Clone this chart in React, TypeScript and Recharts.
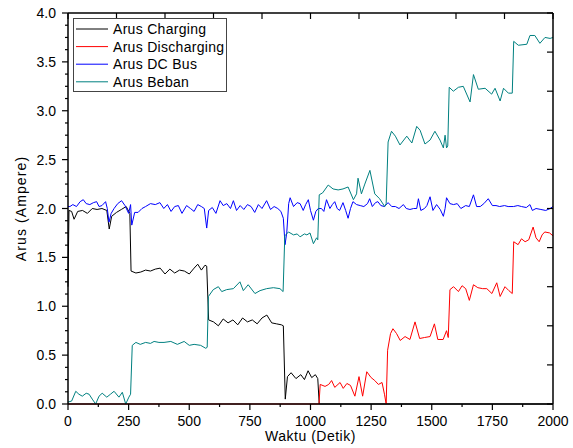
import { LineChart, Line, XAxis, YAxis, Legend } from "recharts";

// [detik, ampere]
const charging: [number, number][] = [
  [0, 1.2], [4, 1.98], [15, 1.97], [25, 1.89], [40, 1.97], [60, 1.98], [80, 1.95],
  [100, 2.0], [120, 1.99], [140, 2.0], [160, 1.98], [170, 1.79], [180, 1.92],
  [200, 1.96], [220, 1.99], [240, 2.02], [255, 1.95], [260, 1.36], [280, 1.34],
  [300, 1.35], [320, 1.37], [340, 1.36], [360, 1.38], [380, 1.39], [400, 1.33],
  [420, 1.38], [440, 1.34], [460, 1.37], [480, 1.36], [500, 1.33], [520, 1.39],
  [535, 1.43], [550, 1.37], [565, 1.42], [572, 1.41], [580, 0.86], [600, 0.84],
  [620, 0.8], [640, 0.87], [660, 0.83], [680, 0.86], [700, 0.81], [720, 0.88],
  [740, 0.84], [760, 0.86], [780, 0.82], [800, 0.88], [820, 0.91], [840, 0.83],
  [860, 0.82], [880, 0.81], [888, 0.8], [896, 0.05], [905, 0.28], [920, 0.32],
  [940, 0.26], [960, 0.3], [975, 0.25], [990, 0.34], [1005, 0.27], [1020, 0.3],
  [1030, 0.26], [1036, 0], [2000, 0],
];

const discharging: [number, number][] = [
  [0, 0], [1035, 0], [1040, 0.2], [1060, 0.18], [1075, 0.2], [1087, 0.24],
  [1100, 0.17], [1122, 0.22], [1135, 0.16], [1150, 0.21], [1165, 0.19],
  [1183, 0.08], [1200, 0.28], [1215, 0.08], [1232, 0.33], [1250, 0.27],
  [1265, 0.24], [1280, 0.2], [1295, 0.22], [1305, 0.1], [1312, 0], [1318, 0.55],
  [1330, 0.72], [1340, 0.77], [1355, 0.72], [1370, 0.65], [1390, 0.69],
  [1410, 0.66], [1431, 0.84], [1450, 0.67], [1470, 0.68], [1493, 0.69],
  [1511, 0.82], [1525, 0.66], [1547, 0.66], [1561, 0.75], [1568, 0.68],
  [1575, 1.17], [1590, 1.2], [1610, 1.15], [1625, 1.21], [1640, 1.18],
  [1655, 1.06], [1672, 1.22], [1690, 1.19], [1710, 1.18], [1727, 1.18],
  [1748, 1.13], [1768, 1.24], [1782, 1.1], [1802, 1.2], [1818, 1.16],
  [1832, 1.13], [1838, 1.66], [1856, 1.63], [1870, 1.69], [1885, 1.66],
  [1900, 1.68], [1918, 1.81], [1930, 1.7], [1943, 1.66], [1955, 1.73],
  [1966, 1.76], [1986, 1.75], [2000, 1.72],
];

const dcBus: [number, number][] = [
  [0, 2.02], [8, 2.02], [20, 2.04], [35, 2.02], [50, 2.07], [63, 2.09], [75, 2.05],
  [90, 2.04], [105, 2.06], [118, 2.07], [128, 2.02], [140, 2.03], [155, 2.07],
  [162, 2.0], [169, 1.86], [178, 1.95], [190, 2.0], [205, 2.05], [221, 2.08],
  [235, 2.03], [250, 1.95], [258, 2.04], [263, 1.83], [275, 1.96], [289, 1.96],
  [305, 2.0], [320, 2.02], [340, 2.05], [360, 2.04], [379, 2.06], [395, 2.0],
  [410, 2.04], [425, 1.97], [440, 2.02], [455, 2.03], [470, 1.95], [489, 2.03],
  [505, 2.0], [520, 1.97], [535, 2.04], [550, 2.02], [562, 2.0], [572, 1.8],
  [580, 1.98], [595, 2.01], [610, 1.95], [627, 2.08], [640, 2.03], [655, 2.05],
  [670, 2.0], [682, 2.08], [695, 1.98], [710, 2.03], [725, 1.99], [740, 2.04],
  [755, 2.02], [770, 1.96], [785, 2.04], [800, 2.0], [819, 2.08], [835, 1.99],
  [850, 2.02], [865, 2.0], [878, 1.97], [888, 1.9], [895, 1.63], [902, 1.75],
  [910, 2.05], [916, 2.11], [930, 2.02], [945, 2.06], [957, 2.05], [970, 1.98],
  [980, 2.04], [991, 2.09], [1000, 1.98], [1012, 1.88], [1022, 1.97], [1032, 2.0],
  [1045, 2.0], [1055, 1.97], [1066, 2.09], [1080, 2.0], [1090, 2.04], [1100, 2.07],
  [1110, 2.0], [1120, 1.98], [1134, 2.06], [1145, 1.98], [1155, 1.9], [1165, 2.0],
  [1175, 2.07], [1190, 2.04], [1205, 2.03], [1220, 2.02], [1235, 2.05], [1244, 2.1],
  [1255, 2.02], [1268, 2.06], [1278, 2.07], [1290, 2.03], [1305, 2.02], [1320, 2.06],
  [1335, 2.02], [1350, 2.02], [1365, 2.0], [1383, 2.04], [1395, 2.0], [1410, 1.99],
  [1425, 2.0], [1438, 2.0], [1445, 2.1], [1455, 1.98], [1470, 2.0], [1480, 2.03],
  [1493, 2.12], [1505, 1.98], [1520, 2.04], [1535, 1.99], [1548, 1.92], [1555, 2.0],
  [1561, 2.11], [1575, 2.05], [1590, 2.04], [1605, 2.05], [1620, 2.0], [1640, 2.03],
  [1655, 2.02], [1672, 2.14], [1685, 2.02], [1700, 2.02], [1715, 2.05], [1733, 2.1],
  [1750, 2.03], [1765, 2.03], [1780, 2.02], [1800, 2.03], [1815, 2.02], [1837, 2.02],
  [1855, 2.03], [1870, 2.02], [1890, 2.01], [1905, 2.04], [1915, 1.98], [1930, 2.0],
  [1950, 1.99], [1970, 1.98], [1988, 2.0], [2000, 2.02],
];

const beban: [number, number][] = [
  [0, 0.02], [15, 0.03], [32, 0.13], [45, 0.1], [59, 0.08], [75, 0.11], [87, 0.1],
  [100, 0.05], [114, 0], [128, 0.08], [141, 0.11], [160, 0.07], [175, 0.1],
  [190, 0.13], [210, 0.07], [224, 0.12], [238, 0], [251, 0.07], [258, 0.1],
  [265, 0.6], [280, 0.63], [298, 0.61], [320, 0.63], [340, 0.62], [355, 0.64],
  [375, 0.63], [396, 0.63], [424, 0.64], [451, 0.61], [479, 0.64], [500, 0.6],
  [520, 0.61], [547, 0.6], [568, 0.57], [574, 0.58], [579, 1.1], [599, 1.17],
  [620, 1.2], [634, 1.15], [654, 1.17], [682, 1.18], [709, 1.25], [723, 1.16],
  [743, 1.22], [771, 1.13], [792, 1.16], [819, 1.18], [847, 1.19], [874, 1.18],
  [887, 1.15], [894, 1.72], [909, 1.76], [930, 1.73], [945, 1.74], [957, 1.71],
  [975, 1.74], [985, 1.73], [998, 1.75], [1012, 1.64], [1025, 1.7], [1030, 1.68],
  [1036, 2.14], [1050, 2.16], [1073, 2.24], [1093, 2.2], [1114, 2.19], [1134, 2.2],
  [1155, 2.22], [1177, 2.09], [1190, 2.15], [1196, 2.31], [1210, 2.15], [1224, 2.25],
  [1245, 2.39], [1265, 2.15], [1285, 2.1], [1306, 2.02], [1312, 2.05], [1320, 2.68],
  [1334, 2.79], [1350, 2.74], [1369, 2.65], [1397, 2.74], [1418, 2.67], [1438, 2.84],
  [1452, 2.8], [1472, 2.66], [1493, 2.7], [1513, 2.79], [1534, 2.7], [1548, 2.62],
  [1555, 2.75], [1561, 2.62], [1566, 2.64], [1572, 3.24], [1589, 3.2], [1610, 3.24],
  [1630, 3.25], [1658, 3.09], [1672, 3.37], [1692, 3.22], [1720, 3.23], [1747, 3.17],
  [1761, 3.23], [1782, 3.1], [1796, 3.23], [1816, 3.18], [1832, 3.18], [1838, 3.71],
  [1857, 3.67], [1892, 3.68], [1905, 3.77], [1925, 3.77], [1946, 3.69], [1967, 3.75],
  [1988, 3.74], [2000, 3.75],
];

// bottom ticks every 125 (labels every 250), top ticks every 200
const xTicks = [
  0, 125, 200, 250, 375, 400, 500, 600, 625, 750, 800, 875, 1000, 1125, 1200, 1250,
  1375, 1400, 1500, 1600, 1625, 1750, 1800, 1875, 2000,
];
const yTicks = [
  0, 0.125, 0.25, 0.375, 0.5, 0.625, 0.75, 0.875, 1, 1.125, 1.25, 1.375, 1.5, 1.625, 1.75,
  1.875, 2, 2.125, 2.25, 2.375, 2.5, 2.625, 2.75, 2.875, 3, 3.125, 3.25, 3.375, 3.5, 3.625,
  3.75, 3.875, 4,
];
const yRightTicks = [0, 0.4, 0.8, 1.2, 1.6, 2.0, 2.4, 2.8, 3.2, 3.6, 4.0];

const series = [
  { name: "Arus Charging", data: charging, color: "#000000" },
  { name: "Arus Discharging", data: discharging, color: "#ff0000" },
  { name: "Arus DC Bus", data: dcBus, color: "#0000ff" },
  { name: "Arus Beban", data: beban, color: "#008080" },
];

const FONT = "'Liberation Sans', Arial, sans-serif";
const PLOT_W = 485;
const PLOT_H = 391;

function toPoints(d: [number, number][]) {
  return d.map(([t, v]) => ({ t, v }));
}

// tick lines drawn here so minor ticks can be shorter than major ones
function LeftTick(props: any) {
  const { x, y, payload } = props;
  const axisX = x + 8;
  const major = Math.abs(payload.value * 2 - Math.round(payload.value * 2)) < 1e-6;
  return (
    <g>
      <line x1={axisX - (major ? 6 : 3)} x2={axisX} y1={y} y2={y} stroke="#000" strokeWidth={1.2} />
      {payload.value === 4 && (
        <line x1={axisX} x2={axisX + PLOT_W} y1={y} y2={y} stroke="#000" strokeWidth={1.5} />
      )}
      {major && (
        <text x={axisX - 12} y={y + 5} textAnchor="end" fontSize={14} fontFamily={FONT} fill="#000">
          {payload.value.toFixed(1)}
        </text>
      )}
    </g>
  );
}

function BottomTick(props: any) {
  const { x, y, payload } = props;
  const axisY = y - 8;
  const v = payload.value;
  const bottom = v % 125 === 0;
  const major = v % 250 === 0;
  const top = v % 200 === 0;
  return (
    <g>
      {bottom && (
        <line x1={x} x2={x} y1={axisY} y2={axisY + (major ? 6 : 3)} stroke="#000" strokeWidth={1.2} />
      )}
      {top && (
        <line x1={x} x2={x} y1={axisY - PLOT_H} y2={axisY - PLOT_H + 6} stroke="#000" strokeWidth={1.2} />
      )}
      {major && (
        <text x={x} y={axisY + 22} textAnchor="middle" fontSize={14} fontFamily={FONT} fill="#000">
          {v}
        </text>
      )}
    </g>
  );
}

// the right frame axis carries no labels
function NoLabel() {
  return <g />;
}

function LegendBox() {
  return (
    <svg width={155} height={75} style={{ display: "block" }}>
      <rect x={0.5} y={0.5} width={153} height={73} fill="#fff" stroke="#444" strokeWidth={1} />
      {series.map((s, i) => {
        const cy = 11 + i * 17.6;
        return (
          <g key={s.name}>
            <line x1={3} x2={35} y1={cy} y2={cy} stroke={s.color} strokeWidth={1} />
            <text x={40} y={cy + 5} fontSize={14} fontFamily={FONT} letterSpacing={0.3} fill="#000">
              {s.name}
            </text>
          </g>
        );
      })}
    </svg>
  );
}

export default function App() {
  return (
    <div style={{ position: "absolute", left: 0, top: 0, width: 573, height: 448, background: "#fff" }}>
      <LineChart width={573} height={448} margin={{ top: 13, right: 0, bottom: 4, left: 0 }}>
        <XAxis
          xAxisId="x"
          dataKey="t"
          type="number"
          domain={[0, 2000]}
          ticks={xTicks}
          interval={0}
          height={40}
          tickSize={6}
          tickMargin={2}
          tickLine={false}
          tick={<BottomTick />}
          axisLine={{ stroke: "#000", strokeWidth: 1.5 }}
          label={{
            value: "Waktu (Detik)",
            position: "insideBottom",
            offset: 3,
            fontSize: 14,
            fontFamily: FONT,
            letterSpacing: 0.5,
            fill: "#000",
          }}
        />
        <YAxis
          yAxisId="y"
          type="number"
          domain={[0, 4]}
          ticks={yTicks}
          interval={0}
          width={68}
          tickSize={6}
          tickMargin={2}
          tickLine={false}
          tick={<LeftTick />}
          axisLine={{ stroke: "#000", strokeWidth: 1.5 }}
          label={{
            value: "Arus (Ampere)",
            angle: -90,
            position: "insideLeft",
            offset: 21,
            fontSize: 14,
            fontFamily: FONT,
            letterSpacing: 1.1,
            fill: "#000",
            style: { textAnchor: "middle" },
          }}
        />
        <YAxis
          yAxisId="right"
          orientation="right"
          type="number"
          domain={[0, 4]}
          ticks={yRightTicks}
          interval={0}
          width={20}
          tickSize={-6}
          tick={<NoLabel />}
          tickLine={{ stroke: "#000", strokeWidth: 1.2 }}
          axisLine={{ stroke: "#000", strokeWidth: 1.5 }}
        />
        <Legend
          layout="vertical"
          align="center"
          verticalAlign="middle"
          content={() => <LegendBox />}
          wrapperStyle={{ left: 73, top: 18, width: 155, height: 75 }}
        />
        {/* carries the right frame axis; not visible */}
        <Line
          xAxisId="x"
          yAxisId="right"
          data={toPoints(beban)}
          dataKey="v"
          stroke="none"
          dot={false}
          activeDot={false}
          legendType="none"
          isAnimationActive={false}
        />
        {series.map((s) => (
          <Line
            key={s.name}
            xAxisId="x"
            yAxisId="y"
            data={toPoints(s.data)}
            dataKey="v"
            name={s.name}
            type="linear"
            stroke={s.color}
            strokeWidth={1}
            dot={false}
            activeDot={false}
            isAnimationActive={false}
          />
        ))}
      </LineChart>
    </div>
  );
}
